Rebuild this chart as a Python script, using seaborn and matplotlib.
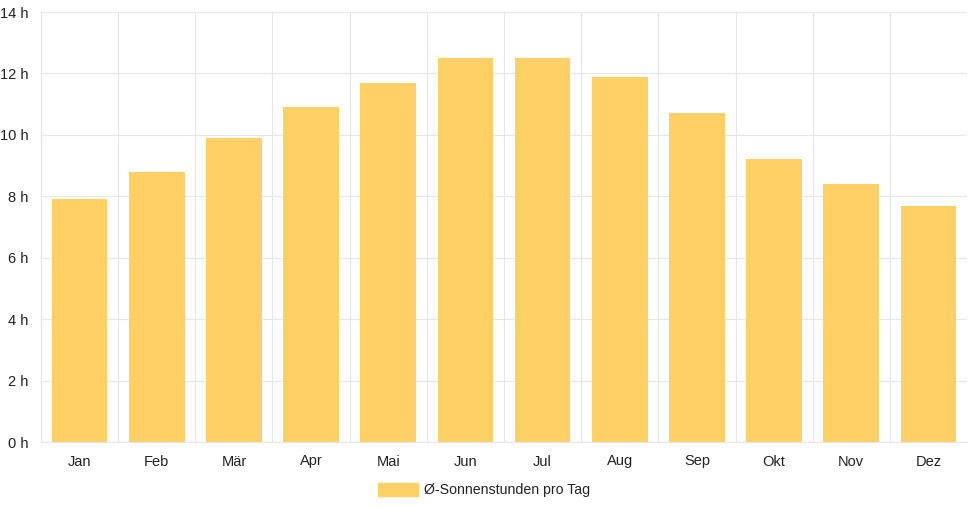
import matplotlib
matplotlib.use("Agg")
import matplotlib.pyplot as plt
import seaborn as sns
import pandas as pd
import numpy as np
from matplotlib.patches import Patch

months = ["Jan", "Feb", "Mär", "Apr", "Mai", "Jun", "Jul", "Aug", "Sep", "Okt", "Nov", "Dez"]
sun_hours = [7.9, 8.8, 9.9, 10.9, 11.7, 12.5, 12.5, 11.9, 10.7, 9.2, 8.4, 7.7]
y_ticks = [0, 2, 4, 6, 8, 10, 12, 14]
y_tick_labels = [f"{v} h" for v in y_ticks]
series_label = "Ø-Sonnenstunden pro Tag"

sns.set_theme(style="white")
plt.rcParams['font.family'] = ['Liberation Sans', 'DejaVu Sans']

W, H = 968, 508
fig = plt.figure(figsize=(W / 100, H / 100), dpi=100)
ax = fig.add_axes([41 / W, 1 - 442 / H, (967 - 41) / W, (442 - 12) / H])

bar_color = "#fed066"
grid_color = "#e6e6e6"

df = pd.DataFrame({"month": months, "hours": sun_hours})
sns.barplot(data=df, x="month", y="hours", color=bar_color, saturation=1,
            width=0.72, ax=ax, zorder=2, linewidth=0)

ax.set_xlim(-0.5, len(months) - 0.5)
ax.set_ylim(0, 14)
ax.set_yticks(y_ticks)
ax.set_yticklabels(y_tick_labels)
ax.set_xticks(range(len(months)))
ax.set_xticklabels(months)
ax.set_xticks(np.arange(-0.5, len(months) + 0.5, 1), minor=True)
ax.set_xlabel("")
ax.set_ylabel("")

ax.grid(True, axis="y", which="major", color=grid_color, linewidth=0.8, zorder=0)
ax.grid(True, axis="x", which="minor", color=grid_color, linewidth=0.8, zorder=0)
ax.grid(False, axis="x", which="major")

ax.tick_params(axis="x", which="major", length=0, pad=9, labelsize=10.5, labelcolor="#222222")
ax.tick_params(axis="x", which="minor", length=8, color=grid_color, width=0.8)
ax.tick_params(axis="y", which="major", length=7, color=grid_color, width=0.8, pad=2,
               labelsize=10.5, labelcolor="#222222")

for s in ["top", "right"]:
    ax.spines[s].set_visible(False)
for s in ["left", "bottom"]:
    ax.spines[s].set_color(grid_color)
    ax.spines[s].set_linewidth(0.8)

handle = Patch(facecolor=bar_color, edgecolor=bar_color)
fig.legend([handle], [series_label], loc="center", bbox_to_anchor=(0.5, 1 - 490 / H),
           frameon=False, fontsize=10.2, handlelength=2.8, handleheight=1.1,
           handletextpad=0.45, labelcolor="#222222")

fig.savefig("out.png", dpi=100)
